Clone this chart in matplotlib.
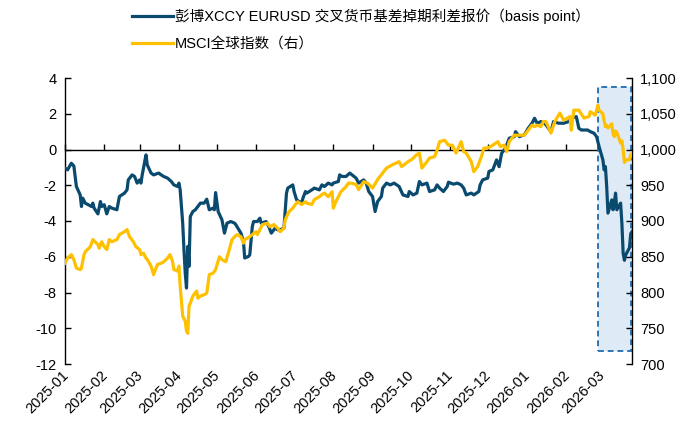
import matplotlib
matplotlib.use("Agg")
import matplotlib.pyplot as plt
import matplotlib.dates as mdates
import matplotlib.ticker as mticker
import matplotlib.transforms as mtransforms
from matplotlib.patches import Rectangle
import pandas as pd

plt.rcParams['font.family'] = ['Liberation Sans', 'Noto Sans CJK SC']
plt.rcParams['axes.unicode_minus'] = False

# ---------------- data ----------------
xccy_dates = [
    "2025-01-01", "2025-01-03", "2025-01-06", "2025-01-08", "2025-01-10", "2025-01-13", "2025-01-14",
    "2025-01-15", "2025-01-17", "2025-01-22", "2025-01-23", "2025-01-24", "2025-01-27", "2025-01-29",
    "2025-01-30", "2025-02-01", "2025-02-03", "2025-02-05", "2025-02-07", "2025-02-11", "2025-02-13",
    "2025-02-17", "2025-02-19", "2025-02-20", "2025-02-23", "2025-02-25", "2025-02-27", "2025-03-01",
    "2025-03-02", "2025-03-03", "2025-03-06", "2025-03-07", "2025-03-10", "2025-03-12", "2025-03-16",
    "2025-03-18", "2025-03-20", "2025-03-23", "2025-03-26", "2025-03-28", "2025-03-31", "2025-04-01",
    "2025-04-02", "2025-04-04", "2025-04-05", "2025-04-06", "2025-04-07", "2025-04-08", "2025-04-09",
    "2025-04-10", "2025-04-12", "2025-04-14", "2025-04-16", "2025-04-18", "2025-04-21", "2025-04-23",
    "2025-04-25", "2025-04-28", "2025-04-29", "2025-04-30", "2025-05-02", "2025-05-05", "2025-05-07",
    "2025-05-09", "2025-05-12", "2025-05-15", "2025-05-16", "2025-05-20", "2025-05-22", "2025-05-23",
    "2025-05-26", "2025-05-27", "2025-05-29", "2025-05-30", "2025-06-02", "2025-06-04", "2025-06-05",
    "2025-06-09", "2025-06-11", "2025-06-13", "2025-06-16", "2025-06-18", "2025-06-20", "2025-06-23",
    "2025-06-25", "2025-06-26", "2025-06-30", "2025-07-01", "2025-07-03", "2025-07-07", "2025-07-08",
    "2025-07-10", "2025-07-11", "2025-07-15", "2025-07-17", "2025-07-21", "2025-07-23", "2025-07-25",
    "2025-07-28", "2025-07-31", "2025-08-01", "2025-08-05", "2025-08-06", "2025-08-08", "2025-08-11",
    "2025-08-14", "2025-08-19", "2025-08-21", "2025-08-25", "2025-08-27", "2025-08-29", "2025-09-01",
    "2025-09-03", "2025-09-05", "2025-09-08", "2025-09-09", "2025-09-12", "2025-09-15", "2025-09-18",
    "2025-09-22", "2025-09-25", "2025-09-29", "2025-09-30", "2025-10-03", "2025-10-06", "2025-10-08",
    "2025-10-10", "2025-10-14", "2025-10-16", "2025-10-20", "2025-10-22", "2025-10-24", "2025-10-27",
    "2025-10-30", "2025-10-31", "2025-11-04", "2025-11-07", "2025-11-10", "2025-11-12", "2025-11-14",
    "2025-11-18", "2025-11-20", "2025-11-24", "2025-11-25", "2025-11-27", "2025-12-01", "2025-12-02",
    "2025-12-05", "2025-12-08", "2025-12-10", "2025-12-12", "2025-12-15", "2025-12-18", "2025-12-22",
    "2025-12-23", "2025-12-26", "2025-12-30", "2026-01-02", "2026-01-05", "2026-01-07", "2026-01-09",
    "2026-01-12", "2026-01-15", "2026-01-20", "2026-01-22", "2026-01-26", "2026-01-30", "2026-02-03",
    "2026-02-05", "2026-02-09", "2026-02-11", "2026-02-13", "2026-02-18", "2026-02-20", "2026-02-23",
    "2026-02-25", "2026-02-27", "2026-03-02", "2026-03-03", "2026-03-04", "2026-03-05", "2026-03-06",
    "2026-03-09", "2026-03-10", "2026-03-11", "2026-03-12", "2026-03-13", "2026-03-16", "2026-03-17",
    "2026-03-18", "2026-03-19", "2026-03-20", "2026-03-23", "2026-03-24", "2026-03-25",
]
xccy_values = [
    -1.04, -1.14, -0.77, -0.92, -2.07, -2.54, -3.19,
    -2.72, -3.00, -3.19, -3.00, -3.28, -3.60, -2.91,
    -3.19, -3.09, -3.60, -3.19, -3.28, -3.37, -2.63,
    -2.44, -2.26, -1.70, -1.42, -1.51, -1.88, -1.70,
    -1.88, -1.42, -0.30, -0.86, -1.32, -1.42, -1.32,
    -1.42, -1.51, -1.60, -1.79, -1.98, -2.07, -1.88,
    -2.26, -4.12, -5.61, -6.91, -7.75, -5.42, -6.54,
    -3.75, -3.47, -3.37, -3.19, -3.00, -3.00, -2.78,
    -3.37, -3.28, -3.37, -2.41, -3.47, -3.93, -4.68,
    -4.12, -4.03, -4.12, -4.21, -4.68, -5.15, -6.07,
    -5.98, -5.89, -4.31, -4.03, -4.03, -3.84, -4.12,
    -4.03, -4.31, -4.68, -4.40, -4.49, -4.49, -4.40,
    -2.44, -2.16, -1.98, -2.35, -2.82, -3.00, -2.72,
    -2.35, -2.44, -2.26, -2.16, -2.26, -1.98, -2.07,
    -1.88, -1.98, -1.88, -1.79, -1.42, -1.51, -1.51,
    -1.32, -1.60, -1.88, -1.70, -1.88, -2.35, -2.63,
    -3.47, -2.91, -2.63, -2.16, -1.88, -1.98, -1.88,
    -2.07, -2.54, -2.63, -2.35, -2.54, -2.44, -1.79,
    -1.98, -1.88, -2.35, -2.26, -1.98, -2.16, -2.35,
    -2.07, -1.83, -1.94, -1.88, -1.98, -2.16, -2.54,
    -2.44, -2.54, -2.35, -1.98, -1.70, -1.60, -1.23,
    -1.14, -0.58, -0.96, -0.21, 0.07, 0.63, 0.72,
    1.00, 0.72, 0.82, 1.19, 1.47, 1.75, 1.47,
    1.56, 1.47, 1.00, 1.56, 1.47, 1.47, 1.56,
    1.75, 1.84, 1.19, 1.09, 1.09, 1.00, 0.91,
    0.72, 0.16, -0.58, -1.14, -0.96, -2.07, -3.56,
    -2.82, -3.37, -3.00, -2.44, -3.37, -3.00, -4.12,
    -5.80, -6.20, -5.90, -5.50, -4.70, -4.60,
]

msci_dates = [
    "2025-01-01", "2025-01-03", "2025-01-06", "2025-01-08", "2025-01-10", "2025-01-13", "2025-01-14",
    "2025-01-16", "2025-01-17", "2025-01-21", "2025-01-23", "2025-01-27", "2025-01-28", "2025-01-30",
    "2025-02-01", "2025-02-03", "2025-02-05", "2025-02-07", "2025-02-11", "2025-02-13", "2025-02-17",
    "2025-02-19", "2025-02-21", "2025-02-24", "2025-02-26", "2025-03-01", "2025-03-02", "2025-03-04",
    "2025-03-06", "2025-03-07", "2025-03-10", "2025-03-12", "2025-03-13", "2025-03-15", "2025-03-18",
    "2025-03-20", "2025-03-23", "2025-03-25", "2025-03-27", "2025-03-28", "2025-03-31", "2025-04-01",
    "2025-04-02", "2025-04-04", "2025-04-06", "2025-04-07", "2025-04-08", "2025-04-09", "2025-04-10",
    "2025-04-11", "2025-04-12", "2025-04-15", "2025-04-16", "2025-04-18", "2025-04-21", "2025-04-23",
    "2025-04-25", "2025-04-28", "2025-04-30", "2025-05-03", "2025-05-05", "2025-05-08", "2025-05-10",
    "2025-05-13", "2025-05-15", "2025-05-17", "2025-05-20", "2025-05-22", "2025-05-23", "2025-05-27",
    "2025-05-29", "2025-06-01", "2025-06-02", "2025-06-04", "2025-06-06", "2025-06-10", "2025-06-12",
    "2025-06-15", "2025-06-18", "2025-06-20", "2025-06-23", "2025-06-24", "2025-06-27", "2025-06-30",
    "2025-07-02", "2025-07-04", "2025-07-07", "2025-07-10", "2025-07-11", "2025-07-15", "2025-07-17",
    "2025-07-21", "2025-07-23", "2025-07-25", "2025-07-28", "2025-07-31", "2025-08-01", "2025-08-03",
    "2025-08-05", "2025-08-07", "2025-08-11", "2025-08-13", "2025-08-15", "2025-08-19", "2025-08-21",
    "2025-08-25", "2025-08-28", "2025-09-01", "2025-09-05", "2025-09-09", "2025-09-12", "2025-09-17",
    "2025-09-22", "2025-09-24", "2025-09-29", "2025-10-02", "2025-10-06", "2025-10-08", "2025-10-10",
    "2025-10-14", "2025-10-16", "2025-10-20", "2025-10-22", "2025-10-24", "2025-10-28", "2025-10-31",
    "2025-11-03", "2025-11-06", "2025-11-07", "2025-11-10", "2025-11-12", "2025-11-14", "2025-11-18",
    "2025-11-20", "2025-11-23", "2025-11-26", "2025-11-28", "2025-12-01", "2025-12-03", "2025-12-05",
    "2025-12-09", "2025-12-11", "2025-12-14", "2025-12-16", "2025-12-18", "2025-12-22", "2025-12-26",
    "2025-12-30", "2026-01-02", "2026-01-05", "2026-01-07", "2026-01-09", "2026-01-12", "2026-01-14",
    "2026-01-16", "2026-01-20", "2026-01-23", "2026-01-27", "2026-01-30", "2026-02-04", "2026-02-05",
    "2026-02-07", "2026-02-11", "2026-02-15", "2026-02-19", "2026-02-20", "2026-02-24", "2026-02-26",
    "2026-02-27", "2026-03-02", "2026-03-03", "2026-03-04", "2026-03-05", "2026-03-06", "2026-03-09",
    "2026-03-10", "2026-03-11", "2026-03-12", "2026-03-13", "2026-03-16", "2026-03-17", "2026-03-18",
    "2026-03-19", "2026-03-20", "2026-03-23", "2026-03-24", "2026-03-25",
]
msci_values = [
    841, 848, 853, 846, 834, 832, 834,
    853, 857, 864, 874, 867, 862, 871,
    864, 860, 874, 871, 874, 881, 885,
    888, 878, 871, 864, 860, 853, 855,
    848, 846, 837, 825, 830, 839, 841,
    843, 848, 853, 843, 832, 830, 837,
    809, 767, 760, 746, 743, 781, 785,
    790, 795, 802, 792, 795, 797, 799,
    825, 827, 832, 850, 846, 843, 855,
    874, 878, 881, 878, 869, 874, 878,
    881, 885, 881, 888, 895, 897, 892,
    895, 890, 885, 890, 902, 913, 918,
    923, 927, 923, 927, 925, 923, 930,
    934, 937, 939, 934, 941, 918, 927,
    934, 941, 948, 953, 953, 951, 944,
    955, 953, 946, 958, 967, 974, 979,
    983, 976, 983, 986, 993, 995, 974,
    983, 988, 990, 999, 1011, 1013, 1006,
    1006, 995, 999, 1011, 997, 995, 983,
    969, 976, 990, 1002, 1002, 1004, 1006,
    1011, 1004, 1006, 997, 1011, 1020, 1020,
    1020, 1027, 1034, 1032, 1034, 1032, 1039,
    1039, 1023, 1039, 1051, 1041, 1046, 1027,
    1055, 1055, 1044, 1046, 1053, 1048, 1062,
    1055, 1050, 1040, 1032, 1034, 1030, 1036,
    1022, 1018, 1026, 1024, 1009, 1012, 1000,
    982, 985, 986, 992, 995,
]

month_ticks = pd.date_range("2025-01-01", "2026-03-01", freq="MS")

xccy_label = "彭博XCCY EURUSD 交叉货币基差掉期利差报价（basis point）"
msci_label = "MSCI全球指数（右）"

highlight_start = "2026-02-26"
highlight_end = "2026-03-24"

# ---------------- plot ----------------
BLUE = "#0B4A6F"
GOLD = "#FFC000"

fig = plt.figure(figsize=(6.96, 4.22), dpi=100)
ax = fig.add_axes([65 / 696, 1 - 364 / 422, (632 - 65) / 696, (364 - 78) / 422])
ax2 = ax.twinx()

xd = pd.to_datetime(xccy_dates)
md = pd.to_datetime(msci_dates)

l1, = ax.plot(xd, xccy_values, color=BLUE, lw=2.3, zorder=3, label=xccy_label)
l2, = ax2.plot(md, msci_values, color=GOLD, lw=2.3, zorder=3, label=msci_label)

# highlight box
hs = mdates.date2num(pd.Timestamp(highlight_start))
he = mdates.date2num(pd.Timestamp(highlight_end))
ax.add_patch(Rectangle((hs, -11.25), he - hs, 3.5 + 11.25, facecolor="#DEEBF7",
                       edgecolor="#2E75B6", linestyle=(0, (3, 2)), lw=1.4, zorder=1))

ax.set_xlim(pd.Timestamp("2025-01-01"), pd.Timestamp("2026-03-25"))
ax.set_ylim(-12, 4)
ax.set_yticks(range(-12, 5, 2))
ax2.set_ylim(700, 1100)
ax2.set_yticks(range(700, 1101, 50))
ax2.yaxis.set_major_formatter(mticker.FuncFormatter(lambda v, p: f"{v:,.0f}"))

for a in (ax, ax2):
    a.spines['top'].set_visible(False)
    a.spines['bottom'].set_visible(False)
ax.spines['right'].set_visible(False)
ax2.spines['left'].set_visible(False)
ax.spines['left'].set_linewidth(1.0)
ax2.spines['right'].set_linewidth(1.0)

ax.tick_params(axis='y', direction='in', length=4, width=1, labelsize=10.5, colors='black', pad=6)
ax2.tick_params(axis='y', direction='in', length=4, width=1, labelsize=10.5, colors='black', pad=6)

# x tick labels along the bottom
ax.set_xticks(month_ticks)
ax.xaxis.set_major_formatter(mdates.DateFormatter("%Y-%m"))
ax.tick_params(axis='x', length=0, labelsize=10.5, pad=3)
offset = mtransforms.ScaledTranslation(6 / 100, 0, fig.dpi_scale_trans)
for lab in ax.get_xticklabels():
    lab.set_rotation(45)
    lab.set_ha('right')
    lab.set_va('top')
    lab.set_transform(lab.get_transform() + offset)

# zero axis line with tick marks
sec = ax.secondary_xaxis(0, transform=ax.transData)
sec.set_xticks(month_ticks)
sec.tick_params(axis='x', direction='in', length=4, width=1, labelbottom=False)
sec.spines['bottom'].set_linewidth(1.0)
sec.spines['bottom'].set_color('black')

ax.set_zorder(ax2.get_zorder() - 1)
ax.patch.set_visible(True)
ax2.patch.set_visible(False)

fig.legend(handles=[l1, l2], loc='upper left', bbox_to_anchor=(126 / 696, 1 - 3 / 422),
           frameon=False, fontsize=10.5, handlelength=2.8, handletextpad=0.15,
           labelspacing=0.85, borderaxespad=0)

fig.savefig("out.png", dpi=100)
